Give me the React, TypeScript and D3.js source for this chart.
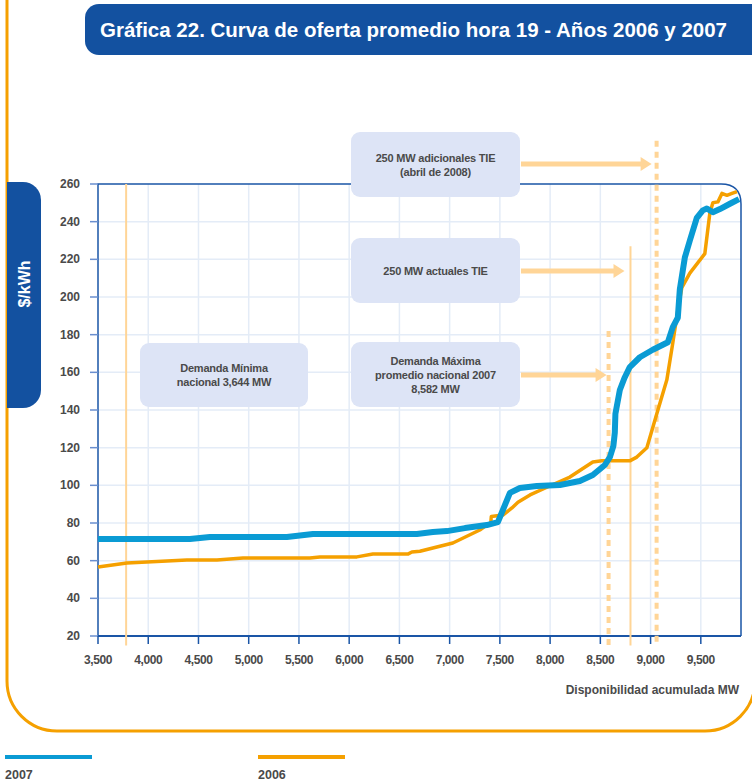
import * as d3 from 'd3';

// 2007 supply curve (MW, $/kWh)
const SERIES_2007: [number, number][] = [
  [3500, 71.5], [4415, 71.5], [4614, 72.6], [5380, 72.6], [5639, 74.2], [6674, 74.2],
  [6833, 75.2], [6973, 75.7], [7152, 77.3], [7370, 78.9], [7480, 80.5], [7530, 86.9],
  [7600, 96], [7699, 98.6], [7868, 99.6], [8097, 100.2], [8296, 102.3], [8425, 105.5],
  [8545, 110.8], [8595, 115], [8630, 121], [8644, 128], [8650, 138], [8694, 150.6],
  [8740, 157], [8793, 162.8], [8893, 168], [9022, 172], [9172, 176], [9221, 184],
  [9271, 189], [9291, 204], [9341, 221], [9391, 230], [9460, 242], [9520, 246],
  [9560, 247], [9620, 245], [9690, 246.7], [9790, 249.5], [9880, 252],
];

// 2006 supply curve
const SERIES_2006: [number, number][] = [
  [3500, 56.6], [3788, 58.8], [4385, 60.3], [4684, 60.3], [4943, 61.4], [5609, 61.4],
  [5709, 62], [6077, 62], [6236, 63.5], [6584, 63.5], [6624, 64.6], [6704, 65],
  [7032, 69.4], [7300, 76.3], [7410, 80.5], [7415, 83.5], [7530, 84.2], [7620, 88],
  [7680, 91], [7800, 94.9], [7968, 99], [8197, 104.4], [8425, 112.4], [8515, 113],
  [8793, 113], [8863, 115], [8963, 120], [9062, 138], [9162, 156], [9221, 175.6],
  [9271, 193], [9311, 205], [9391, 212.7], [9540, 223], [9590, 244.6], [9620, 250],
  [9670, 250.5], [9710, 255], [9760, 254], [9810, 255], [9860, 256],
];

const X_TICKS = [3500, 4000, 4500, 5000, 5500, 6000, 6500, 7000, 7500, 8000, 8500, 9000, 9500];
const Y_TICKS = [20, 40, 60, 80, 100, 120, 140, 160, 180, 200, 220, 240, 260];

// vertical reference lines: MW position, top value, dashed?
const REF_X = [3780, 8582, 8800, 9060];
const REF_TOP = [260, 182, 227, 283];
const REF_DASHED = [false, true, false, true];

const BOX_LINES = [
  ['Demanda Mínima', 'nacional 3,644 MW'],
  ['250 MW adicionales TIE', '(abril de 2008)'],
  ['250 MW actuales TIE'],
  ['Demanda Máxima', 'promedio nacional 2007', '8,582 MW'],
];

const BLUE = '#0a9bd4';
const ORANGE = '#f5a000';
const LIGHT_OR = '#ffd597';
const NAVY = '#1351a0';
const GRID = '#e4ecf7';
const AXIS = '#1a55a6';
const TXT = '#4a4a4a';
const FONT = "'Liberation Sans', Arial, sans-serif";

export default function App() {
  const W = 752, H = 783;
  const x = d3.scaleLinear().domain([3500, 9900]).range([98, 741]);
  const y = d3.scaleLinear().domain([20, 260]).range([636, 184]);
  const line = d3.line<[number, number]>().x(d => x(d[0])).y(d => y(d[1]));

  const left = x(3500), right = x(9900), top = y(260), bottom = y(20);
  const r = 20;
  const framePath = `M${left},${bottom} L${left},${top} L${right - r},${top} Q${right},${top} ${right},${top + r} L${right},${bottom}`;

  // annotation boxes (layout) and which ref line each arrow points to
  const boxes = [
    { bx: 140, by: 343, bw: 168, bh: 64, arrow: -1, ay: 0, gap: 0 },
    { bx: 351, by: 132, bw: 169, bh: 65, arrow: 3, ay: 164, gap: 5 },
    { bx: 351, by: 238, bw: 169, bh: 65, arrow: 2, ay: 271, gap: 6 },
    { bx: 351, by: 342, bw: 169, bh: 65, arrow: 1, ay: 375, gap: 2 },
  ];

  return (
    <svg width={W} height={H} style={{ position: 'absolute', left: 0, top: 0 }} fontFamily={FONT}>
      <rect width={W} height={H} fill="#fff" />
      {/* orange outer frame */}
      <path d="M7,0 L7,681 A50,50 0 0 0 57,731 L705,731 A50,50 0 0 0 755,681" fill="none" stroke={ORANGE} strokeWidth={3} />

      {/* title */}
      <rect x={85} y={4} width={720} height={51} rx={14} fill={NAVY} />
      <text x={100} y={37} fill="#fff" fontSize={20} fontWeight="bold" textLength={627} lengthAdjust="spacingAndGlyphs">
        Gráfica 22. Curva de oferta promedio hora 19 - Años 2006 y 2007
      </text>

      {/* y label box */}
      <path d="M7,182 L23,182 A18,18 0 0 1 41,200 L41,390 A18,18 0 0 1 23,408 L7,408 Z" fill={NAVY} />
      <text transform="translate(30,284) rotate(-90)" textAnchor="middle" fill="#fff" fontSize={16} fontWeight="bold">$/kWh</text>

      {/* grid */}
      {X_TICKS.slice(1).map(t => (
        <line key={'gx' + t} x1={x(t)} x2={x(t)} y1={top} y2={bottom} stroke={GRID} strokeWidth={1.5} />
      ))}
      {Y_TICKS.slice(1, -1).map(t => (
        <line key={'gy' + t} x1={left} x2={right} y1={y(t)} y2={y(t)} stroke={GRID} strokeWidth={1.5} />
      ))}

      {/* frame and axes */}
      <path d={framePath} fill="none" stroke={AXIS} strokeWidth={1.5} />
      <line x1={left} x2={right} y1={bottom} y2={bottom} stroke={AXIS} strokeWidth={2} />
      {Y_TICKS.map(t => (
        <g key={'yt' + t}>
          <line x1={left - 8} x2={left} y1={y(t)} y2={y(t)} stroke="#6a8fcf" strokeWidth={1.5} />
          <text x={80} y={y(t) + 4} textAnchor="end" fontSize={12} fontWeight="bold" fill={TXT}>{t}</text>
        </g>
      ))}
      {X_TICKS.map(t => (
        <g key={'xt' + t}>
          <line x1={x(t)} x2={x(t)} y1={bottom} y2={bottom + 8} stroke={AXIS} strokeWidth={1.5} />
          <text x={x(t)} y={bottom + 28} textAnchor="middle" fontSize={12} fontWeight="bold" fill={TXT} letterSpacing={-0.4}>
            {d3.format(',')(t)}
          </text>
        </g>
      ))}
      <text x={739} y={694} textAnchor="end" fontSize={12} fontWeight="bold" fill={TXT}>Disponibilidad acumulada MW</text>

      {/* reference lines */}
      {REF_X.map((v, i) => (
        <line key={'ref' + i} x1={x(v)} x2={x(v)} y1={y(REF_TOP[i])} y2={y(15)}
          stroke={LIGHT_OR} strokeWidth={REF_DASHED[i] ? 4 : 2} strokeDasharray={REF_DASHED[i] ? '6,5' : undefined} />
      ))}

      {/* series */}
      <path d={line(SERIES_2006) ?? ''} fill="none" stroke={ORANGE} strokeWidth={3.5} strokeLinejoin="round" />
      <path d={line(SERIES_2007) ?? ''} fill="none" stroke={BLUE} strokeWidth={6} strokeLinejoin="round" />

      {/* annotation boxes and arrows */}
      {boxes.map((b, i) => {
        const lines = BOX_LINES[i];
        const cy = b.by + b.bh / 2 - ((lines.length - 1) * 14) / 2 + 4;
        const tip = b.arrow >= 0 ? x(REF_X[b.arrow]) - b.gap : 0;
        return (
          <g key={'box' + i}>
            <rect x={b.bx} y={b.by} width={b.bw} height={b.bh} rx={9} fill="#dde4f6" />
            {lines.map((l, j) => (
              <text key={j} x={b.bx + b.bw / 2} y={cy + j * 14} textAnchor="middle" fontSize={11} fontWeight="bold" fill={TXT} letterSpacing={-0.2}>{l}</text>
            ))}
            {b.arrow >= 0 && (
              <g>
                <line x1={b.bx + b.bw + 1} x2={tip - 9} y1={b.ay} y2={b.ay} stroke={LIGHT_OR} strokeWidth={5} />
                <path d={`M${tip - 11},${b.ay - 7} L${tip},${b.ay} L${tip - 11},${b.ay + 7} Z`} fill={LIGHT_OR} />
              </g>
            )}
          </g>
        );
      })}

      {/* legend */}
      <line x1={5} x2={92} y1={757} y2={757} stroke={BLUE} strokeWidth={4} />
      <text x={5} y={779} fontSize={12.5} fontWeight="bold" fill={TXT}>2007</text>
      <line x1={258} x2={345} y1={757} y2={757} stroke={ORANGE} strokeWidth={4} />
      <text x={258} y={779} fontSize={12.5} fontWeight="bold" fill={TXT}>2006</text>
    </svg>
  );
}
